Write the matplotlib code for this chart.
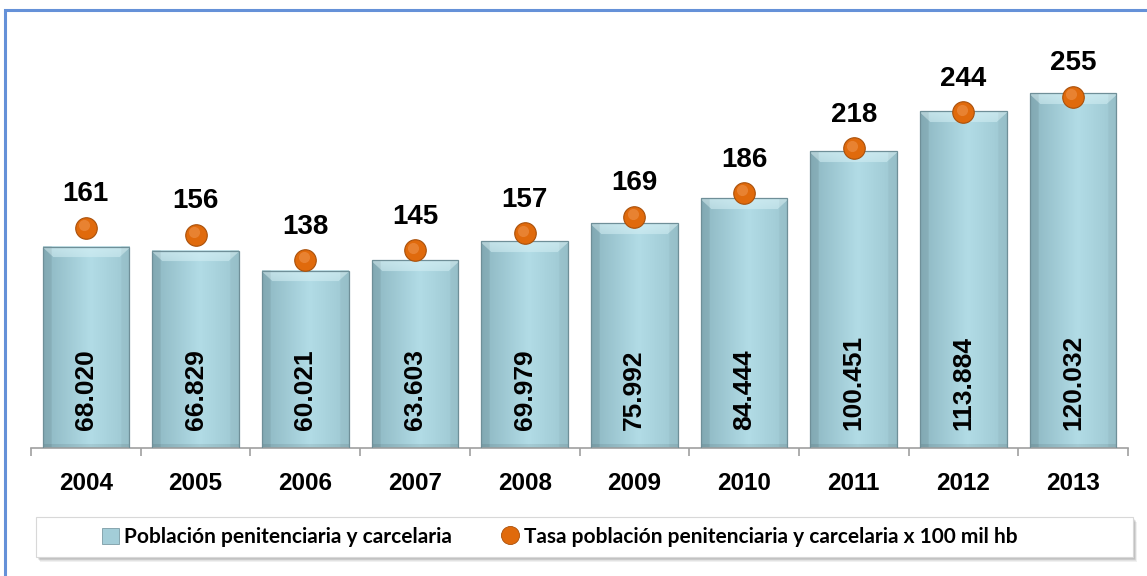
import numpy as np
import matplotlib
matplotlib.use('Agg')
import matplotlib.pyplot as plt
import matplotlib.transforms as mtransforms
from matplotlib.patches import Rectangle, FancyBboxPatch
from matplotlib.lines import Line2D
from matplotlib.colors import to_rgb

# ---------------- data ----------------
years = ['2004', '2005', '2006', '2007', '2008', '2009', '2010', '2011', '2012', '2013']
poblacion = [68020, 66829, 60021, 63603, 69979, 75992, 84444, 100451, 113884, 120032]
tasa = [161, 156, 138, 145, 157, 169, 186, 218, 244, 255]
legend_labels = ['Población penitenciaria y carcelaria',
                 'Tasa población penitenciaria y carcelaria x 100 mil hb']

plt.rcParams['font.family'] = ['Liberation Sans', 'DejaVu Sans']

W, H = 1147, 576
fig = plt.figure(figsize=(W / 100, H / 100), dpi=100)
fig.patch.set_facecolor('white')

# outer blue border (only left/top visible in frame)
fig.patches.append(Rectangle((5 / W, -0.2), 1.3, 0.2 + 1 - 10 / H, transform=fig.transFigure,
                             fill=False, edgecolor='#6591D8', linewidth=2.2, zorder=0))

ax = fig.add_axes([31 / W, 1 - 448 / H, (1128 - 31) / W, (448 - 35) / H])
ax.patch.set_alpha(0)
x = np.arange(len(years))
bar_w = 0.79
bars = ax.bar(x, poblacion, width=bar_w, color='none', edgecolor='#6F8F98', linewidth=0.9, zorder=3)
ax.set_xlim(-0.5, len(years) - 0.5)
ymax1 = 139760
ax.set_ylim(0, ymax1)

# gradient fill with bevel on each bar
px_per_unit = (448 - 35) / ymax1
c_left = np.array(to_rgb('#8CB6C1'))
c_mid = np.array(to_rgb('#B2DCE6'))
c_right = np.array(to_rgb('#9DC7D1'))
c_top = np.array(to_rgb('#D4EFF4'))
ncol = 80
t = np.linspace(0, 1, ncol)
prof = np.empty((ncol, 3))
for k in range(ncol):
    if t[k] < 0.55:
        s = t[k] / 0.55
        prof[k] = c_left * (1 - s) + c_mid * s
    else:
        s = (t[k] - 0.55) / 0.45
        prof[k] = c_mid * (1 - s) + c_right * s
for b in bars:
    x0, y0 = b.get_x(), b.get_y()
    w, h = b.get_width(), b.get_height()
    hpx = h * px_per_unit
    nrow = int(hpx)
    img = np.tile(prof, (nrow, 1, 1))
    bevel = 11
    wpx = 87
    for r in range(min(bevel, nrow)):
        f = 1 - r / bevel * 0.3
        inset = int(r / wpx * ncol)
        img[r, inset:ncol - inset] = img[r, inset:ncol - inset] * (1 - 0.75 * f) + c_top * 0.75 * f
    side = max(2, int(9 / wpx * ncol))
    img[:, :side] *= 0.93
    img[:, -side:] *= 0.96
    img[-4:, :] *= 0.92
    ax.imshow(np.clip(img, 0, 1), extent=[x0, x0 + w, y0, y0 + h], aspect='auto',
              zorder=2, interpolation='bilinear')
ax.set_xlim(-0.5, len(years) - 0.5)
ax.set_ylim(0, ymax1)

for i, v in enumerate(poblacion):
    ax.annotate(f'{v:,}'.replace(',', '.'), (x[i], 0), xytext=(0, 13), textcoords='offset points',
                rotation=90, ha='center', va='bottom', fontsize=19, fontweight='bold',
                color='black', zorder=6)

for s in ['left', 'right', 'top']:
    ax.spines[s].set_visible(False)
ax.spines['bottom'].set_color('#A0A0A0')
ax.spines['bottom'].set_linewidth(1.2)
ax.set_yticks([])
ax.set_xticks(np.arange(-0.5, len(years), 1.0))
ax.set_xticklabels([])
ax.tick_params(axis='x', which='major', length=5.5, color='#A0A0A0', width=1.2)
ax.set_xticks(x, minor=True)
ax.set_xticklabels(years, minor=True, fontsize=17.5, fontweight='bold')
ax.tick_params(axis='x', which='minor', length=0, pad=17)

# secondary axis: rate
ax2 = ax.twinx()
ax2.set_ylim(3.15, 299.2)
ax2.set_xlim(-0.5, len(years) - 0.5)
ax2.plot(x, tasa, 'o', ms=15.5, color='#E06A0C', mec='#A9500A', mew=0.8, zorder=5, ls='none')
hl = mtransforms.offset_copy(ax2.transData, fig=fig, x=-1.2, y=1.8, units='points')
ax2.plot(x, tasa, 'o', ms=8, color='#F3A060', mec='none', alpha=0.45, transform=hl, zorder=6, ls='none')
for i, v in enumerate(tasa):
    ax2.annotate(str(v), (x[i], v), xytext=(0, 24), textcoords='offset points',
                 ha='center', va='center', fontsize=20, fontweight='bold', color='black')
ax2.set_yticks([])
for s in ax2.spines.values():
    s.set_visible(False)

# legend box with soft shadow
for k in range(6):
    a = 0.10
    sh = FancyBboxPatch(((36 + 1 + k * 0.6) / W, 1 - (557 + 1 + k * 0.8) / H), 1097 / W, 40 / H,
                        boxstyle='square,pad=0', transform=fig.transFigure,
                        facecolor='#707070', edgecolor='none', alpha=a, zorder=1)
    fig.patches.append(sh)
box = FancyBboxPatch((36 / W, 1 - 557 / H), 1097 / W, 40 / H, boxstyle='square,pad=0',
                     transform=fig.transFigure, facecolor='white', edgecolor='#D8D8D8',
                     linewidth=0.8, zorder=2)
fig.patches.append(box)

h1 = Rectangle((0, 0), 1, 1, facecolor='#A3CDD8', edgecolor='#7C9CA5', linewidth=0.6)
h2 = Line2D([], [], marker='o', ls='none', ms=13, color='#E06A0C', mec='#A9500A', mew=0.6)
leg = fig.legend([h1, h2], legend_labels, loc='center', bbox_to_anchor=(560 / W, 1 - 537 / H),
                 ncol=2, frameon=False, handlelength=0.8, handleheight=0.8, handletextpad=0.25,
                 columnspacing=2.4, prop={'family': 'Lato', 'weight': 'bold', 'size': 15})
leg.set_zorder(5)

fig.savefig('out.png', dpi=100)
